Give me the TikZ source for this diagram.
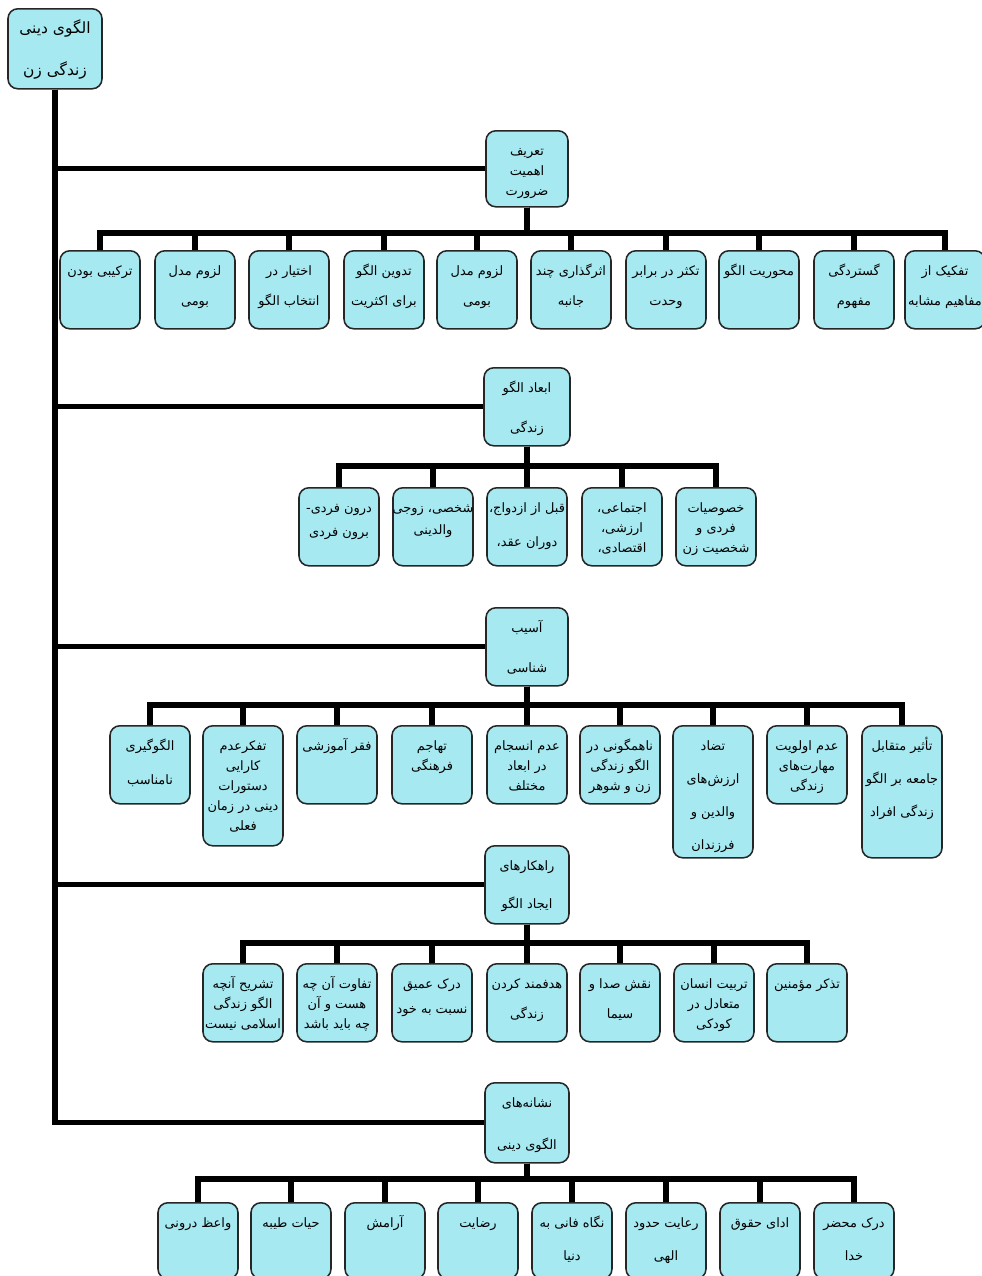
\documentclass[tikz,border=0pt]{standalone}
\usepackage{fontspec}
\newfontfamily\fa[Script=Arabic]{DejaVu Sans}
\TeXXeTstate=1
\definecolor{boxcyan}{RGB}{166,233,241}
\newcommand{\cellsize}{9.2}
\newcommand{\rl}[1]{\makebox[0pt]{\beginR #1\endR}}
\newcommand{\cell}[4][2cm]{\parbox[c][#2][t]{#1}{\centering\fa\fontsize{\cellsize}{#3}\selectfont\rule{0pt}{0.62cm}#4}}
\begin{document}
\begin{tikzpicture}[x=0.025cm,y=-0.025cm,
    leaf/.style={draw=black!85,fill=boxcyan,rounded corners=7pt,line width=1.1pt,inner sep=0pt,anchor=north},
    link/.style={line width=3.6pt}]
  \useasboundingbox (0,0) rectangle (981,1276);
  % root and main branches
  \node[leaf] (root) at (55,8) {\renewcommand{\cellsize}{11}\cell[2.35cm]{2cm}{0.92cm}{\vspace*{0.12cm}\rl{الگوی دینی}\\\rl{زندگی زن}}};
  \node[leaf] (p1) at (527,130) {\cell[2.05cm]{1.9cm}{0.5cm}{\rl{تعریف}\\\rl{اهمیت}\\\rl{ضرورت}}};
  \node[leaf] (p2) at (527,367) {\cell[2.15cm]{1.95cm}{1cm}{\rl{ابعاد الگو}\\\rl{زندگی}}};
  \node[leaf] (p3) at (527,607) {\cell[2.05cm]{1.95cm}{1cm}{\rl{آسیب}\\\rl{شناسی}}};
  \node[leaf] (p4) at (527,845) {\cell[2.1cm]{1.95cm}{0.95cm}{\rl{راهکارهای}\\\rl{ایجاد الگو}}};
  \node[leaf] (p5) at (527,1082) {\cell[2.1cm]{2cm}{1.05cm}{\rl{نشانه‌های}\\\rl{الگوی دینی}}};
  \foreach \i in {1,...,5}
    \draw[link] (root.south) |- (p\i.west);
  % definition
  \coordinate (bar1) at (527,233);
  \foreach \x/\h/\b/\t [count=\i] in
    {100/1.95cm/0.75cm/{\rl{ترکیبی بودن}},
     195/1.95cm/0.75cm/{\rl{لزوم مدل}\\\rl{بومی}},
     289/1.95cm/0.75cm/{\rl{اختیار در}\\\rl{انتخاب الگو}},
     384/1.95cm/0.75cm/{\rl{تدوین الگو}\\\rl{برای اکثریت}},
     477/1.95cm/0.75cm/{\rl{لزوم مدل}\\\rl{بومی}},
     571/1.95cm/0.75cm/{\rl{اثرگذاری چند}\\\rl{جانبه}},
     666/1.95cm/0.75cm/{\rl{تکثر در برابر}\\\rl{وحدت}},
     759/1.95cm/0.75cm/{\rl{محوریت الگو}},
     854/1.95cm/0.75cm/{\rl{گستردگی}\\\rl{مفهوم}},
     945/1.95cm/0.75cm/{\rl{تفکیک از}\\\rl{مفاهیم مشابه}}}
  {
    \node[leaf] (a\i) at (\x,250) {\cell{\h}{\b}{\t}};
    \draw[link] (p1.south) -- (bar1) -| (a\i.north);
  }
  % dimensions
  \coordinate (bar2) at (527,466);
  \foreach \x/\h/\b/\t [count=\i] in
    {339/1.95cm/0.6cm/{\rl{درون فردی-}\\\rl{برون فردی}},
     433/1.95cm/0.55cm/{\rl{شخصی، زوجی}\\\rl{والدینی}},
     527/1.95cm/0.85cm/{\rl{قبل از ازدواج،}\\\rl{دوران عقد،}},
     622/1.95cm/0.5cm/{\rl{اجتماعی،}\\\rl{ارزشی،}\\\rl{اقتصادی،}},
     716/1.95cm/0.5cm/{\rl{خصوصیات}\\\rl{فردی و}\\\rl{شخصیت زن}}}
  {
    \node[leaf] (b\i) at (\x,487) {\cell{\h}{\b}{\t}};
    \draw[link] (p2.south) -- (bar2) -| (b\i.north);
  }
  % pathology
  \coordinate (bar3) at (527,705);
  \foreach \x/\h/\b/\t [count=\i] in
    {150/1.95cm/0.85cm/{\rl{الگوگیری}\\\rl{نامناسب}},
     243/3cm/0.5cm/{\rl{تفکرعدم}\\\rl{کارایی}\\\rl{دستورات}\\\rl{دینی در زمان}\\\rl{فعلی}},
     337/1.95cm/0.5cm/{\rl{فقر آموزشی}},
     432/1.95cm/0.5cm/{\rl{تهاجم}\\\rl{فرهنگی}},
     527/1.95cm/0.5cm/{\rl{عدم انسجام}\\\rl{در ابعاد}\\\rl{مختلف}},
     620/1.95cm/0.5cm/{\rl{ناهمگونی در}\\\rl{الگو زندگی}\\\rl{زن و شوهر}},
     713/3.3cm/0.82cm/{\rl{تضاد}\\\rl{ارزش‌های}\\\rl{والدین و}\\\rl{فرزندان}},
     807/1.95cm/0.5cm/{\rl{عدم اولویت}\\\rl{مهارت‌های}\\\rl{زندگی}},
     902/3.3cm/0.82cm/{\rl{تأثیر متقابل}\\\rl{جامعه بر الگو}\\\rl{زندگی افراد}}}
  {
    \node[leaf] (c\i) at (\x,725) {\cell{\h}{\b}{\t}};
    \draw[link] (p3.south) -- (bar3) -| (c\i.north);
  }
  % solutions
  \coordinate (bar4) at (527,943);
  \foreach \x/\h/\b/\t [count=\i] in
    {243/1.95cm/0.5cm/{\rl{تشریح آنچه}\\\rl{الگو زندگی}\\\rl{اسلامی نیست}},
     337/1.95cm/0.5cm/{\rl{تفاوت آن چه}\\\rl{هست و آن}\\\rl{چه باید باشد}},
     432/1.95cm/0.62cm/{\rl{درک عمیق}\\\rl{نسبت به خود}},
     527/1.95cm/0.75cm/{\rl{هدفمند کردن}\\\rl{زندگی}},
     620/1.95cm/0.75cm/{\rl{نقش صدا و}\\\rl{سیما}},
     714/1.95cm/0.5cm/{\rl{تربیت انسان}\\\rl{متعادل در}\\\rl{کودکی}},
     807/1.95cm/0.5cm/{\rl{تذکر مؤمنین}}}
  {
    \node[leaf] (d\i) at (\x,963) {\cell{\h}{\b}{\t}};
    \draw[link] (p4.south) -- (bar4) -| (d\i.north);
  }
  % signs
  \coordinate (bar5) at (527,1179);
  \foreach \x/\h/\b/\t [count=\i] in
    {198/1.9cm/0.82cm/{\rl{واعظ درونی}},
     291/1.9cm/0.82cm/{\rl{حیات طیبه}},
     385/1.9cm/0.82cm/{\rl{آرامش}},
     478/1.9cm/0.82cm/{\rl{رضایت}},
     572/1.9cm/0.82cm/{\rl{نگاه فانی به}\\\rl{دنیا}},
     666/1.9cm/0.82cm/{\rl{رعایت حدود}\\\rl{الهی}},
     760/1.9cm/0.82cm/{\rl{ادای حقوق}},
     854/1.9cm/0.82cm/{\rl{درک محضر}\\\rl{خدا}}}
  {
    \node[leaf] (e\i) at (\x,1202) {\cell{\h}{\b}{\t}};
    \draw[link] (p5.south) -- (bar5) -| (e\i.north);
  }
\end{tikzpicture}
\end{document}
